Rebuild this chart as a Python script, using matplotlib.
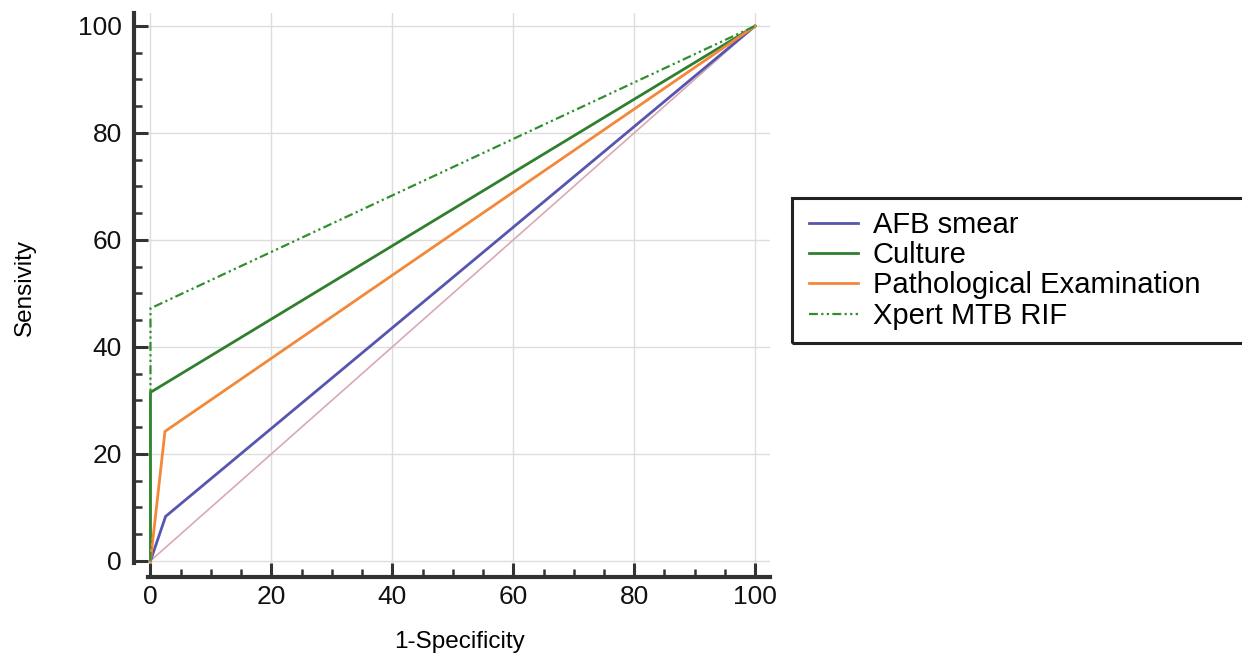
import matplotlib.pyplot as plt
from matplotlib.ticker import MultipleLocator
from matplotlib.patches import Rectangle

plt.rcParams['font.family'] = ['Liberation Sans', 'DejaVu Sans']

# ROC points (1-specificity, sensitivity)
afb_x = [0, 2.5, 100]
afb_y = [0, 8.3, 100]
culture_x = [0, 0, 100]
culture_y = [0, 31.5, 100]
patho_x = [0, 2.4, 100]
patho_y = [0, 24.2, 100]
xpert_x = [0, 0, 100]
xpert_y = [0, 47.2, 100]
diag = [0, 100]

fig = plt.figure(figsize=(12.42, 6.58), dpi=100)
ax = fig.add_axes([0.1192, 0.1444, 0.501, 0.8365])

ax.plot(diag, diag, color='#d9a9b3', lw=1.2, zorder=2)
ax.plot(afb_x, afb_y, color='#5656b0', lw=2, label='AFB smear', zorder=3)
ax.plot(culture_x, culture_y, color='#2f7f2f', lw=2, label='Culture', zorder=3)
ax.plot(patho_x, patho_y, color='#f4883a', lw=2, label='Pathological Examination', zorder=3)
ax.plot(xpert_x, xpert_y, color='#2f8f2f', lw=1.6, ls=(0, (4, 1.5, 1, 1.5, 1, 1.5)),
        label='Xpert MTB RIF', zorder=3)

ax.set_xlim(-0.4, 102.5)
ax.set_ylim(-0.4, 102.5)
ax.xaxis.set_minor_locator(MultipleLocator(5))
ax.yaxis.set_minor_locator(MultipleLocator(5))
ax.set_xticks(range(0, 101, 20))
ax.set_yticks(range(0, 101, 20))
ax.grid(True, which='major', color='#dddddd', lw=1)
ax.set_axisbelow(True)

for s in ['top', 'right']:
    ax.spines[s].set_visible(False)
for s in ['left', 'bottom']:
    ax.spines[s].set_position(('outward', 10))
    ax.spines[s].set_linewidth(3)
    ax.spines[s].set_color('#333333')

ax.tick_params(which='major', direction='in', length=10, width=2.2, color='#333333',
               labelsize=19, labelcolor='#111111')
ax.tick_params(axis='y', which='major', pad=9)
ax.tick_params(axis='x', which='major', pad=6)
ax.tick_params(which='minor', direction='in', length=6, width=1.8, color='#333333')

ax.set_xlabel('1-Specificity', fontsize=17.5, labelpad=16)
ax.set_ylabel('Sensivity', fontsize=17.5, labelpad=30)

leg = fig.legend(loc='upper left', bbox_to_anchor=(800 / 1242, 1 - 202 / 658),
                 fontsize=21, frameon=False, handlelength=1.7,
                 borderpad=0.3, labelspacing=0.08, handletextpad=0.5,
                 borderaxespad=0)

# legend frame runs off the right edge of the figure
fig.patches.append(Rectangle((792 / 1242, 1 - 343 / 658), 460 / 1242, 145 / 658,
                             transform=fig.transFigure, fill=False,
                             edgecolor='#222222', lw=2.2))

fig.savefig('out.png', dpi=100)
